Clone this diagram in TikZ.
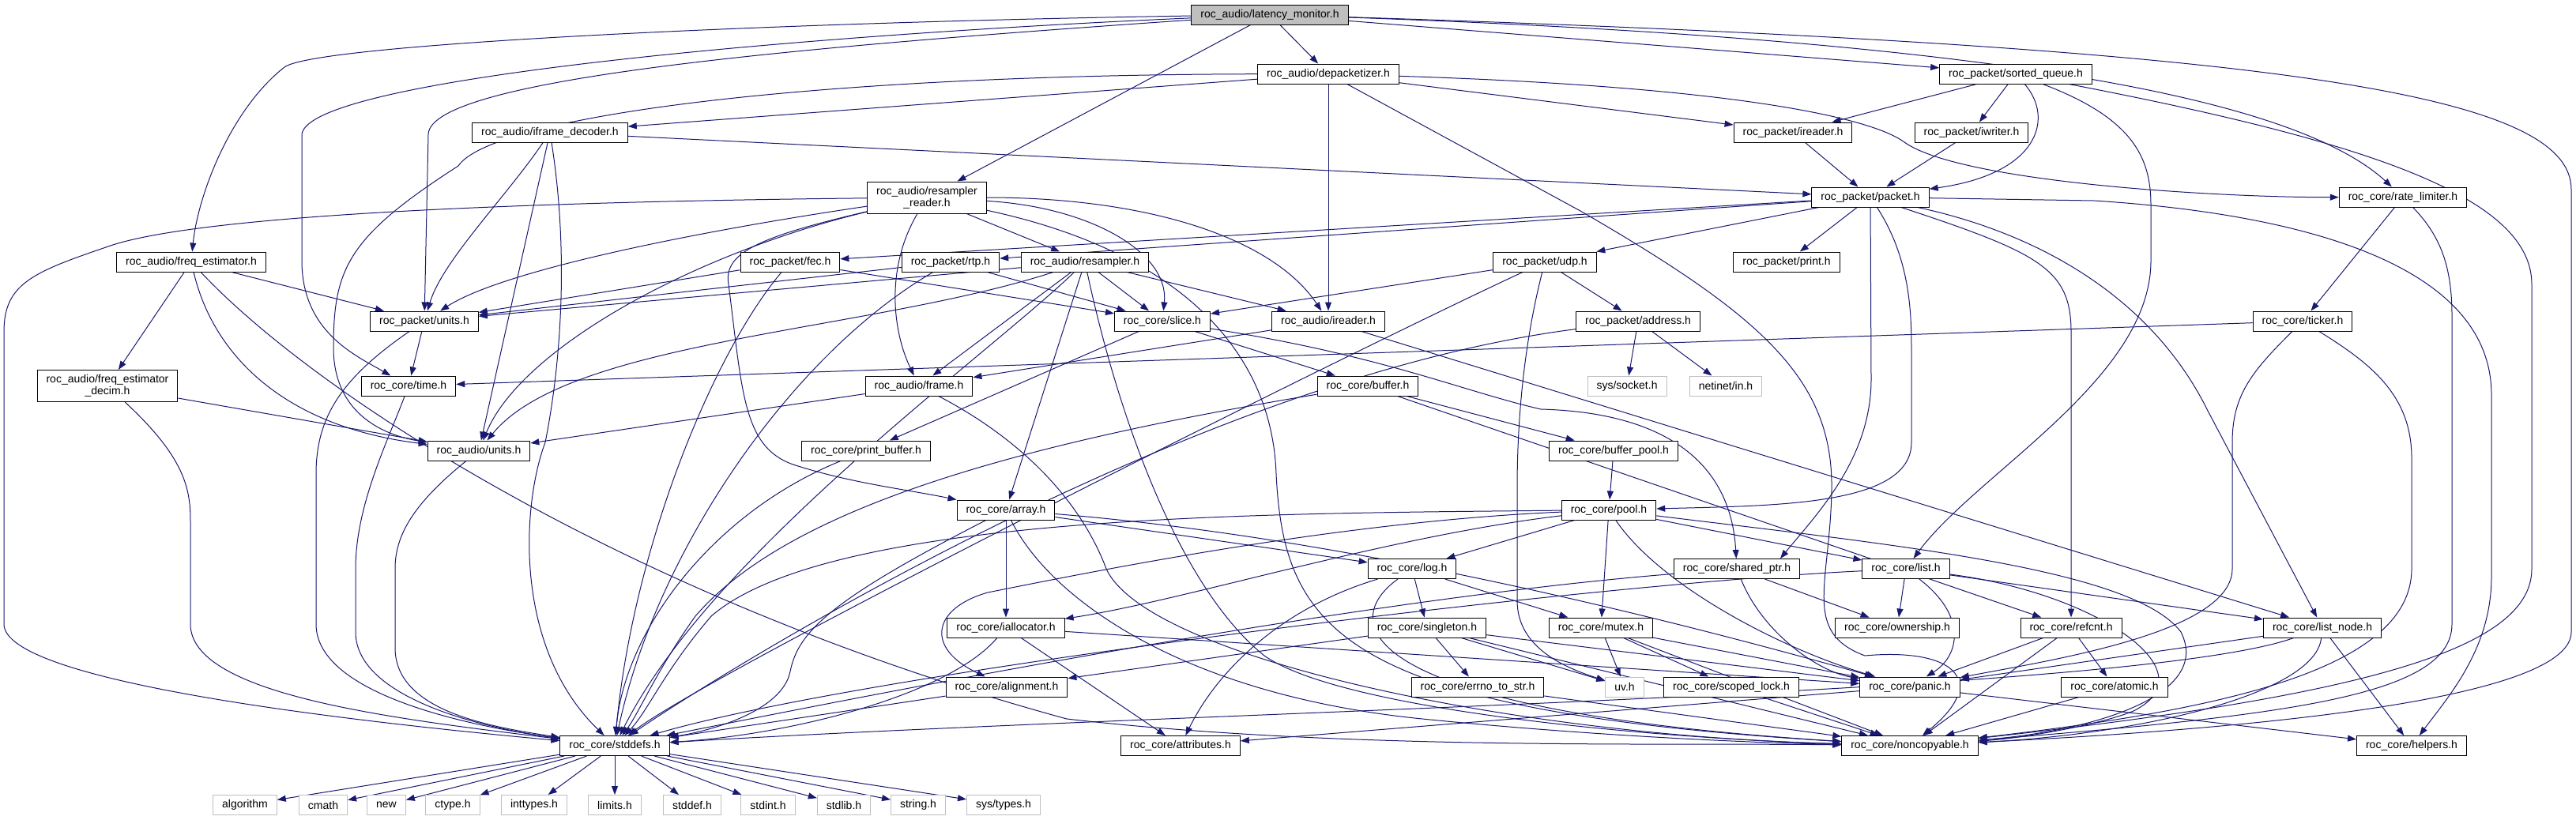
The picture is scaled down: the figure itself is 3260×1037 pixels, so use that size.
\documentclass[tikz,border=0pt]{standalone}
\usepackage{fontspec}
\setmainfont{Liberation Sans}
\usetikzlibrary{arrows.meta,backgrounds}
\definecolor{incblue}{HTML}{191970}
\definecolor{sysgray}{HTML}{BFBFBF}
\begin{document}
\begin{tikzpicture}[x=1pt,y=-1pt,
  hdr/.style={draw=black,line width=1pt,fill=white,inner xsep=11.5pt,inner ysep=3pt,minimum height=25pt,font=\fontsize{14}{15}\selectfont,align=center},
  hdrtwo/.style={hdr,minimum height=40pt},
  rootbox/.style={hdr,fill=sysgray},
  sysbox/.style={hdr,draw=sysgray},
  inc/.style={draw=incblue,line width=1pt,-{Triangle[length=11pt,width=8pt]}}]
  \useasboundingbox (0,0) rectangle (3260,1037);

  \node[rootbox] (lm) at (1607,18.5) {roc\_audio/latency\_monitor.h};
  \node[hdr] (depack) at (1681,93.5) {roc\_audio/depacketizer.h};
  \node[hdr] (sortq) at (2551,93.5) {roc\_packet/sorted\_queue.h};
  \node[hdr] (iframedec) at (696,167.5) {roc\_audio/iframe\_decoder.h};
  \node[hdr] (pktreader) at (2269,167.5) {roc\_packet/ireader.h};
  \node[hdr] (pktwriter) at (2495,167.5) {roc\_packet/iwriter.h};
  \node[hdrtwo] (rsreader) at (1173,250) {roc\_audio/resampler\\\_reader.h};
  \node[hdr] (packet) at (2367,249.5) {roc\_packet/packet.h};
  \node[hdr] (ratelim) at (3041,249.5) {roc\_core/rate\_limiter.h};
  \node[hdr] (freqest) at (242,331.5) {roc\_audio/freq\_estimator.h};
  \node[hdr] (fec) at (1000,331.5) {roc\_packet/fec.h};
  \node[hdr] (rtp) at (1203,331.5) {roc\_packet/rtp.h};
  \node[hdr] (resampler) at (1373,331.5) {roc\_audio/resampler.h};
  \node[hdr] (udp) at (1955,331.5) {roc\_packet/udp.h};
  \node[hdr] (pktprint) at (2261,331.5) {roc\_packet/print.h};
  \node[hdr] (pktunits) at (537,406.5) {roc\_packet/units.h};
  \node[hdr] (slice) at (1471,406.5) {roc\_core/slice.h};
  \node[hdr] (audreader) at (1681,406.5) {roc\_audio/ireader.h};
  \node[hdr] (address) at (2073,406.5) {roc\_packet/address.h};
  \node[hdr] (ticker) at (2914,406.5) {roc\_core/ticker.h};
  \node[hdr] (coretime) at (517,488.5) {roc\_core/time.h};
  \node[hdrtwo] (freqdecim) at (136,488.5) {roc\_audio/freq\_estimator\\\_decim.h};
  \node[hdr] (frame) at (1163,488.5) {roc\_audio/frame.h};
  \node[hdr] (buffer) at (1731,488.5) {roc\_core/buffer.h};
  \node[sysbox] (socket) at (2059,488.5) {sys/socket.h};
  \node[sysbox] (netinet) at (2184,488.5) {netinet/in.h};
  \node[hdr] (audunits) at (606,570.5) {roc\_audio/units.h};
  \node[hdr] (printbuf) at (1096,570.5) {roc\_core/print\_buffer.h};
  \node[hdr] (bufpool) at (2042,570.5) {roc\_core/buffer\_pool.h};
  \node[hdr] (pool) at (2036,645.5) {roc\_core/pool.h};
  \node[hdr] (array) at (1273,645.5) {roc\_core/array.h};
  \node[hdr] (log) at (1787,720) {roc\_core/log.h};
  \node[hdr] (sharedptr) at (2198,720) {roc\_core/shared\_ptr.h};
  \node[hdr] (list) at (2412,720) {roc\_core/list.h};
  \node[hdr] (iallocator) at (1273,794.5) {roc\_core/iallocator.h};
  \node[hdr] (singleton) at (1806,794.5) {roc\_core/singleton.h};
  \node[hdr] (mutex) at (2026,794.5) {roc\_core/mutex.h};
  \node[hdr] (ownership) at (2401,794.5) {roc\_core/ownership.h};
  \node[hdr] (refcnt) at (2621,794.5) {roc\_core/refcnt.h};
  \node[hdr] (listnode) at (2939,794.5) {roc\_core/list\_node.h};
  \node[hdr] (alignment) at (1274,869.5) {roc\_core/alignment.h};
  \node[hdr] (errnostr) at (1870,869.5) {roc\_core/errno\_to\_str.h};
  \node[sysbox] (uv) at (2056,869.5) {uv.h};
  \node[hdr] (scopedlock) at (2191,869.5) {roc\_core/scoped\_lock.h};
  \node[hdr] (panic) at (2417,869.5) {roc\_core/panic.h};
  \node[hdr] (atomic) at (2676,869.5) {roc\_core/atomic.h};
  \node[hdr] (stddefs) at (778,944) {roc\_core/stddefs.h};
  \node[hdr] (attributes) at (1494,944) {roc\_core/attributes.h};
  \node[hdr] (noncopy) at (2417,944) {roc\_core/noncopyable.h};
  \node[hdr] (helpers) at (3052,944) {roc\_core/helpers.h};
  \node[sysbox] (algorithm) at (310,1019) {algorithm};
  \node[sysbox] (cmath) at (409,1019) {cmath};
  \node[sysbox] (hnew) at (489,1019) {new};
  \node[sysbox] (ctype) at (573,1019) {ctype.h};
  \node[sysbox] (inttypes) at (676,1019) {inttypes.h};
  \node[sysbox] (limits) at (778,1019) {limits.h};
  \node[sysbox] (stddef) at (876,1019) {stddef.h};
  \node[sysbox] (stdint) at (972,1019) {stdint.h};
  \node[sysbox] (stdlib) at (1068,1019) {stdlib.h};
  \node[sysbox] (string) at (1162,1019) {string.h};
  \node[sysbox] (systypes) at (1270,1019) {sys/types.h};

  \begin{pgfonlayer}{background}
  \draw[inc] (lm) -- (depack);
  \draw[inc] (lm) -- (rsreader);
  \draw[inc] (lm) -- (sortq);
  \draw[inc] (lm) .. controls (2500,50) and (2900,120) .. (ratelim);
  \draw[inc] (lm) .. controls (2900,60) and (3254,120) .. (3254,240) -- (3254,800) .. controls (3254,880) and (2900,920) .. (noncopy);
  \draw[inc] (lm) .. controls (1000,28) and (400,55) .. (360,85) .. controls (290,140) and (250,250) .. (freqest);
  \draw[inc] (lm) .. controls (1000,45) and (390,100) .. (382,170) -- (382,330) .. controls (382,420) and (450,450) .. (coretime);
  \draw[inc] (lm) .. controls (1000,60) and (545,100) .. (542,170) -- (pktunits);

  \draw[inc] (depack) -- (iframedec);
  \draw[inc] (depack) .. controls (1000,95) and (620,150) .. (580,210) .. controls (440,300) and (422,340) .. (422,440) .. controls (422,520) and (480,550) .. (audunits);
  \draw[inc] (depack) -- (audreader);
  \draw[inc] (depack) -- (pktreader);
  \draw[inc] (depack) .. controls (2200,110) and (2370,150) .. (2410,180) .. controls (2480,230) and (2800,250) .. (ratelim);
  \draw[inc] (depack) -- (2000,267) .. controls (2230,400) and (2320,480) .. (2318,620) .. controls (2316,740) and (2280,800) .. (2360,830) .. controls (2470,820) and (2520,860) .. (noncopy);

  \draw[inc] (iframedec) .. controls (640,250) and (560,330) .. (pktunits);
  \draw[inc] (iframedec) -- (audunits);
  \draw[inc] (iframedec) .. controls (720,320) and (710,460) .. (690,560) .. controls (660,640) and (650,820) .. (stddefs);
  \draw[inc] (iframedec) -- (packet);

  \draw[inc] (rsreader) .. controls (700,255) and (250,270) .. (134,313) .. controls (40,345) and (5,360) .. (5,420) -- (5,790) .. controls (5,850) and (300,900) .. (stddefs);
  \draw[inc] (rsreader) .. controls (900,290) and (640,340) .. (pktunits);
  \draw[inc] (rsreader) .. controls (960,300) and (915,320) .. (922,360) .. controls (940,500) and (940,570) .. (1010,590) .. controls (1080,612) and (1150,620) .. (array);
  \draw[inc] (rsreader) .. controls (880,320) and (660,440) .. (audunits);
  \draw[inc] (rsreader) .. controls (1120,340) and (1130,420) .. (frame);
  \draw[inc] (rsreader) -- (resampler);
  \draw[inc] (rsreader) .. controls (1380,262) and (1480,320) .. (slice);
  \draw[inc] (rsreader) .. controls (1450,250) and (1610,300) .. (audreader);
  \draw[inc] (rsreader) .. controls (1500,320) and (1610,450) .. (1615,600) .. controls (1625,800) and (1700,900) .. (noncopy);

  \draw[inc] (freqest) -- (freqdecim);
  \draw[inc] (freqest) -- (pktunits);
  \draw[inc] (freqest) .. controls (270,450) and (360,540) .. (audunits);
  \draw[inc] (freqest) .. controls (400,500) and (800,760) .. (1350,910) .. controls (1700,950) and (2100,940) .. (noncopy);
  \draw[inc] (freqdecim) -- (audunits);
  \draw[inc] (freqdecim) .. controls (235,580) and (241,620) .. (241,660) -- (241,790) .. controls (241,880) and (500,910) .. (stddefs);

  \draw[inc] (pktunits) -- (coretime);
  \draw[inc] (pktunits) .. controls (430,480) and (400,530) .. (400,600) -- (400,790) .. controls (400,880) and (600,920) .. (stddefs);
  \draw[inc] (coretime) .. controls (490,560) and (450,640) .. (450,720) -- (450,800) .. controls (450,880) and (600,920) .. (stddefs);
  \draw[inc] (audunits) .. controls (520,640) and (500,680) .. (500,720) -- (500,820) .. controls (500,900) and (620,920) .. (stddefs);

  \draw[inc] (fec) -- (pktunits);
  \draw[inc] (fec) -- (slice);
  \draw[inc] (fec) .. controls (900,450) and (800,700) .. (stddefs);
  \draw[inc] (rtp) -- (pktunits);
  \draw[inc] (rtp) -- (slice);
  \draw[inc] (rtp) .. controls (1000,450) and (830,700) .. (stddefs);

  \draw[inc] (resampler) -- (pktunits);
  \draw[inc] (resampler) -- (frame);
  \draw[inc] (resampler) -- (slice);
  \draw[inc] (resampler) -- (audreader);
  \draw[inc] (resampler) .. controls (1100,420) and (720,430) .. (audunits);
  \draw[inc] (resampler) -- (array);
  \draw[inc] (resampler) .. controls (1250,450) and (900,700) .. (stddefs);
  \draw[inc] (resampler) .. controls (1420,550) and (1500,750) .. (1600,830) .. controls (1700,900) and (2100,935) .. (noncopy);

  \draw[inc] (udp) -- (slice);
  \draw[inc] (udp) .. controls (1700,450) and (900,850) .. (stddefs);
  \draw[inc] (udp) .. controls (1925,450) and (1920,550) .. (1920,620) -- (1920,760) .. controls (1920,820) and (1980,845) .. (uv);
  \draw[inc] (udp) -- (address);

  \draw[inc] (packet) -- (fec);
  \draw[inc] (packet) -- (rtp);
  \draw[inc] (packet) -- (udp);
  \draw[inc] (packet) -- (pktprint);
  \draw[inc] (packet) -- (2368,480) .. controls (2368,580) and (2300,650) .. ([xshift=55pt]sharedptr.north);
  \draw[inc] (packet) .. controls (2419,330) and (2419,400) .. (2419,450) -- (2419,560) .. controls (2419,640) and (2250,640) .. (pool);
  \draw[inc] (packet) -- (2650,254) .. controls (2900,270) and (3153,330) .. (3153,500) -- (3153,730) .. controls (3153,820) and (3100,880) .. (helpers);
  \draw[inc] (packet) .. controls (2580,320) and (2621,340) .. (2621,420) -- (refcnt);
  \draw[inc] (packet) .. controls (2600,300) and (2730,390) .. (2794,520) -- (listnode);
  \draw[inc] (pktreader) -- (packet);
  \draw[inc] (pktwriter) -- (packet);

  \draw[inc] (sortq) -- (pktreader);
  \draw[inc] (sortq) -- (pktwriter);
  \draw[inc] (sortq) .. controls (2600,150) and (2580,220) .. (packet);
  \draw[inc] (sortq) .. controls (2700,150) and (2722,200) .. (2722,260) -- (2722,330) .. controls (2722,480) and (2500,600) .. (list);
  \draw[inc] (sortq) .. controls (3000,180) and (3204,250) .. (3204,360) -- (3204,720) .. controls (3204,820) and (3000,880) .. (noncopy);

  \draw[inc] (ratelim) -- (ticker);
  \draw[inc] (ratelim) .. controls (3090,300) and (3103,340) .. (3103,400) -- (3103,790) .. controls (3103,880) and (2900,905) .. (noncopy);
  \draw[inc] (ticker) -- (coretime);
  \draw[inc] (ticker) .. controls (2850,470) and (2825,500) .. (2825,560) -- (2825,720) .. controls (2825,800) and (2600,835) .. (panic);
  \draw[inc] (ticker) .. controls (3000,460) and (3052,500) .. (3052,580) -- (3052,720) .. controls (3052,850) and (2800,900) .. (noncopy);

  \draw[inc] (address) .. controls (1500,480) and (900,860) .. (stddefs);
  \draw[inc] (address) -- (socket);
  \draw[inc] (address) -- (netinet);

  \draw[inc] (slice) -- (printbuf);
  \draw[inc] (slice) -- (buffer);
  \draw[inc] (slice) .. controls (1750,450) and (1850,495) .. (1950,518) .. controls (2100,522) and (2190,580) .. (sharedptr);
  \draw[inc] (audreader) -- (frame);
  \draw[inc] (audreader) -- (listnode);
  \draw[inc] (frame) -- (audunits);
  \draw[inc] (frame) .. controls (1300,560) and (1370,640) .. (1400,720) .. controls (1450,830) and (1900,930) .. (noncopy);
  \draw[inc] (printbuf) .. controls (900,650) and (790,800) .. (stddefs);

  \draw[inc] (buffer) -- (bufpool);
  \draw[inc] (buffer) -- (refcnt);
  \draw[inc] (buffer) .. controls (1300,560) and (1000,640) .. (880,780) .. controls (830,850) and (810,900) .. (stddefs);
  \draw[inc] (bufpool) -- (pool);

  \draw[inc] (pool) -- (log);
  \draw[inc] (pool) .. controls (1750,680) and (1500,760) .. (iallocator);
  \draw[inc] (pool) .. controls (1700,660) and (1400,720) .. (1250,750) .. controls (1180,770) and (1170,820) .. (alignment);
  \draw[inc] (pool) .. controls (1600,650) and (1050,650) .. (900,780) .. controls (840,850) and (820,900) .. (stddefs);
  \draw[inc] (pool) -- (list);
  \draw[inc] (pool) -- (mutex);
  \draw[inc] (pool) .. controls (2100,740) and (2250,820) .. (panic);
  \draw[inc] (pool) .. controls (2400,690) and (2700,720) .. (2760,800) .. controls (2800,880) and (2650,925) .. (noncopy);

  \draw[inc] (array) -- (iallocator);
  \draw[inc] (array) -- (log);
  \draw[inc] (array) .. controls (1700,680) and (2100,780) .. (panic);
  \draw[inc] (array) .. controls (1050,760) and (1010,800) .. (1000,850) .. controls (990,900) and (900,925) .. (stddefs);
  \draw[inc] (array) .. controls (1330,760) and (1500,880) .. (1800,910) .. controls (2000,930) and (2200,940) .. (noncopy);

  \draw[inc] (log) .. controls (1620,770) and (1540,850) .. (attributes);
  \draw[inc] (log) -- (singleton);
  \draw[inc] (log) -- (mutex);
  \draw[inc] (log) .. controls (1690,790) and (1720,900) .. (noncopy);

  \draw[inc] (singleton) -- (errnostr);
  \draw[inc] (singleton) -- (alignment);
  \draw[inc] (singleton) -- (uv);
  \draw[inc] (singleton) -- (panic);
  \draw[inc] (singleton) -- (noncopy);
  \draw[inc] (mutex) -- (uv);
  \draw[inc] (mutex) -- (scopedlock);
  \draw[inc] (mutex) -- (panic);
  \draw[inc] (mutex) -- (noncopy);
  \draw[inc] (errnostr) -- (noncopy);
  \draw[inc] (scopedlock) -- (noncopy);

  \draw[inc] (iallocator) .. controls (1200,880) and (1000,930) .. (stddefs);
  \draw[inc] (iallocator) -- (attributes);
  \draw[inc] (iallocator) -- (panic);
  \draw[inc] (alignment) -- (stddefs);

  \draw[inc] (sharedptr) .. controls (1700,760) and (1100,880) .. (stddefs);
  \draw[inc] (sharedptr) -- (ownership);
  \draw[inc] (sharedptr) .. controls (2230,800) and (2300,850) .. (panic);
  \draw[inc] (list) -- (ownership);
  \draw[inc] (list) .. controls (2490,780) and (2480,830) .. (panic);
  \draw[inc] (list) -- (listnode);
  \draw[inc] (list) .. controls (2650,750) and (2800,850) .. (2700,900) .. controls (2650,920) and (2550,935) .. (noncopy);
  \draw[inc] (list) .. controls (2000,740) and (1100,850) .. (stddefs);

  \draw[inc] (listnode) -- (panic);
  \draw[inc] (listnode) .. controls (2930,880) and (2700,930) .. (noncopy);
  \draw[inc] (listnode) -- (helpers);
  \draw[inc] (listnode) .. controls (2700,880) and (1500,900) .. (stddefs);
  \draw[inc] (refcnt) -- (atomic);
  \draw[inc] (refcnt) -- (noncopy);
  \draw[inc] (refcnt) -- (panic);
  \draw[inc] (atomic) -- (noncopy);
  \draw[inc] (panic) -- (attributes);
  \draw[inc] (panic) -- (helpers);

  \draw[inc] (stddefs) -- (algorithm);
  \draw[inc] (stddefs) -- (cmath);
  \draw[inc] (stddefs) -- (hnew);
  \draw[inc] (stddefs) -- (ctype);
  \draw[inc] (stddefs) -- (inttypes);
  \draw[inc] (stddefs) -- (limits);
  \draw[inc] (stddefs) -- (stddef);
  \draw[inc] (stddefs) -- (stdint);
  \draw[inc] (stddefs) -- (stdlib);
  \draw[inc] (stddefs) -- (string);
  \draw[inc] (stddefs) -- (systypes);
  \end{pgfonlayer}
\end{tikzpicture}
\end{document}
